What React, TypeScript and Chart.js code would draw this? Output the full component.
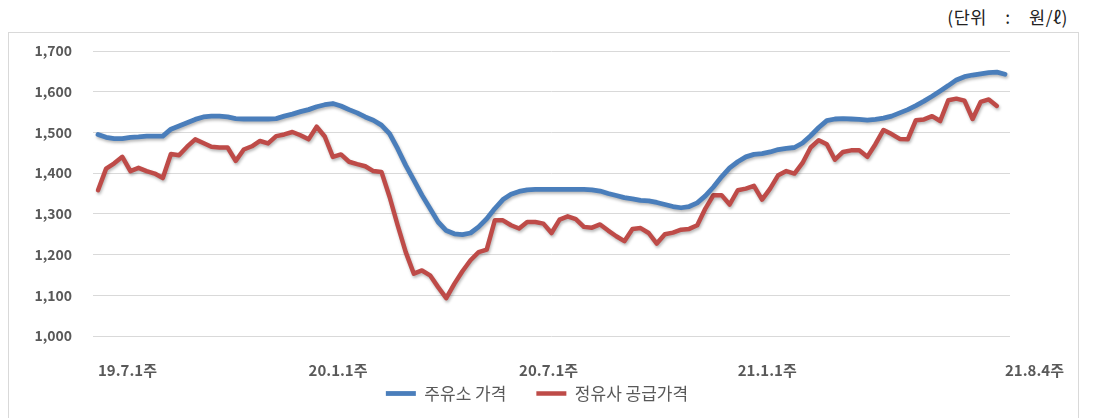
import React, { useEffect, useRef } from "react";
import { Chart, registerables } from "chart.js";

Chart.register(...registerables);

// Months (yy.m) and number of weeks in each, 19.7 .. 21.8
const monthNames = ["19.7","19.8","19.9","19.10","19.11","19.12","20.1","20.2","20.3","20.4","20.5","20.6","20.7","20.8","20.9","20.10","20.11","20.12","21.1","21.2","21.3","21.4","21.5","21.6","21.7","21.8"];
const monthWeekCounts = [4,5,4,5,4,4,5,4,4,5,4,4,5,4,4,5,4,5,4,4,4,5,4,4,5,4];

const shownTickLabels = ["19.7.1주", "20.1.1주", "20.7.1주", "21.1.1주", "21.8.4주"];

const stationPrice = [
  1495,1488,1485,1485,1488,1489,1491,1491,1491,1508,
  1516,1524,1532,1538,1540,1540,1538,1534,1533,1533,
  1533,1533,1534,1540,1545,1551,1556,1563,1568,1571,
  1565,1556,1548,1538,1530,1518,1497,1460,1419,1383,
  1346,1313,1280,1259,1251,1249,1253,1268,1288,1313,
  1335,1348,1355,1359,1360,1360,1360,1360,1360,1360,
  1360,1359,1356,1350,1345,1340,1337,1333,1332,1328,
  1323,1318,1315,1318,1327,1344,1366,1391,1413,1428,
  1440,1446,1448,1452,1458,1461,1463,1474,1492,1512,
  1529,1533,1534,1533,1532,1530,1532,1535,1540,1548,
  1556,1566,1577,1589,1602,1615,1629,1637,1641,1644,
  1647,1648,1643
];

const refinerPrice: (number | null)[] = [
  1358,1411,1424,1440,1405,1413,1405,1399,1388,1447,
  1444,1465,1483,1474,1465,1463,1463,1430,1458,1466,
  1479,1473,1491,1495,1501,1493,1483,1514,1490,1440,
  1446,1428,1422,1417,1405,1403,1342,1272,1206,1153,
  1161,1149,1120,1093,1128,1159,1186,1206,1212,1284,
  1284,1272,1264,1280,1280,1276,1253,1286,1294,1287,
  1268,1266,1274,1259,1245,1233,1263,1265,1253,1227,
  1250,1254,1261,1263,1272,1313,1346,1346,1323,1358,
  1362,1369,1335,1362,1395,1405,1399,1425,1463,1481,
  1471,1433,1452,1456,1456,1440,1471,1506,1496,1484,
  1483,1530,1532,1540,1528,1579,1583,1578,1533,1575,
  1581,1565,null
];

const seriesNames = ["주유소 가격", "정유사 공급가격"];
const unitText = "(단위 : 원/ℓ)";

const categories: string[] = [];
monthNames.forEach((m, mi) => {
  for (let w = 1; w <= monthWeekCounts[mi]; w++) categories.push(`${m}.${w}주`);
});

const FONT = '"Noto Sans CJK KR", "Noto Sans", sans-serif';

const shadowPlugin = {
  id: "lineShadow",
  beforeDatasetDraw(chart: any) {
    const ctx = chart.ctx;
    ctx.save();
    ctx.shadowColor = "rgba(0,0,0,0.28)";
    ctx.shadowBlur = 3;
    ctx.shadowOffsetX = 1;
    ctx.shadowOffsetY = 2;
  },
  afterDatasetDraw(chart: any) {
    chart.ctx.restore();
  },
};

// place the legend box: centred under the plot like the reference
const legendPlacePlugin = {
  id: "legendPlace",
  afterLayout(chart: any) {
    const lg = chart.legend;
    if (!lg) return;
    lg.top = 355;
    lg.bottom = 418;
    lg.height = 63;
    lg.left += 22;
    lg.right += 22;
  },
};

export default function App() {
  const ref = useRef<HTMLCanvasElement | null>(null);

  useEffect(() => {
    if (!ref.current) return;
    const shownIdx = shownTickLabels.map((l) => categories.indexOf(l));
    const chart = new Chart(ref.current, {
      type: "line",
      data: {
        datasets: [
          {
            label: seriesNames[0],
            data: stationPrice.map((v, i) => ({ x: i, y: v })),
            borderColor: "#4A7EBB",
            backgroundColor: "#4A7EBB",
            borderWidth: 4.8,
            pointRadius: 0,
            tension: 0,
            borderJoinStyle: "round",
            borderCapStyle: "round",
          },
          {
            label: seriesNames[1],
            data: refinerPrice.map((v, i) => ({ x: i, y: v })),
            borderColor: "#BE4B48",
            backgroundColor: "#BE4B48",
            borderWidth: 4.5,
            pointRadius: 0,
            tension: 0,
            borderJoinStyle: "round",
            borderCapStyle: "round",
          },
        ],
      },
      options: {
        responsive: false,
        animation: false,
        layout: { padding: { left: 20, right: 87, top: 51, bottom: 0 } },
        scales: {
          x: {
            type: "linear",
            min: -0.62,
            max: 112.62,
            grid: { display: false },
            border: { display: false },
            afterBuildTicks: (scale: any) => {
              scale.ticks = shownIdx.map((v) => ({ value: v }));
            },
            afterFit: (scale: any) => {
              scale.height = 56;
            },
            ticks: {
              autoSkip: false,
              maxRotation: 0,
              minRotation: 0,
              align: "start",
              padding: 17,
              color: "#595959",
              font: { family: FONT, size: 15, weight: "bold" },
              callback: (v: any) => categories[Math.round(Number(v))] ?? "",
            },
          },
          y: {
            min: 1000,
            max: 1700,
            grid: { color: "#D9D9D9", lineWidth: 1, drawTicks: false },
            border: { display: false },
            afterFit: (scale: any) => {
              scale.width = 73;
            },
            ticks: {
              stepSize: 100,
              padding: 21,
              color: "#595959",
              font: { family: FONT, size: 14, weight: "bold" },
              callback: (v: any) => Number(v).toLocaleString("en-US"),
            },
          },
        },
        plugins: {
          legend: {
            display: true,
            position: "bottom",
            maxHeight: 26,
            labels: {
              usePointStyle: true,
              pointStyle: "line",
              pointStyleWidth: 30,
              padding: 30,
              color: "#595959",
              font: { family: FONT, size: 17 },
            },
          },
          tooltip: { enabled: false },
        },
      },
      plugins: [shadowPlugin, legendPlacePlugin],
    } as any);
    return () => chart.destroy();
  }, []);

  return (
    <div style={{ position: "fixed", left: 0, top: 0, width: 1097, height: 418, background: "#fff", overflow: "hidden" }}>
      <div
        style={{
          position: "absolute",
          left: 8,
          top: 32,
          width: 1071,
          height: 400,
          border: "1px solid #D9D9D9",
          boxSizing: "border-box",
        }}
      />
      <div
        style={{
          position: "absolute",
          right: 29,
          top: 4,
          fontFamily: FONT,
          fontSize: 17.5,
          wordSpacing: 14,
          letterSpacing: 0.5,
          color: "#222",
          whiteSpace: "pre",
        }}
      >
        {unitText}
      </div>
      <canvas ref={ref} width={1097} height={418} style={{ position: "absolute", left: 0, top: 0 }} />
    </div>
  );
}
